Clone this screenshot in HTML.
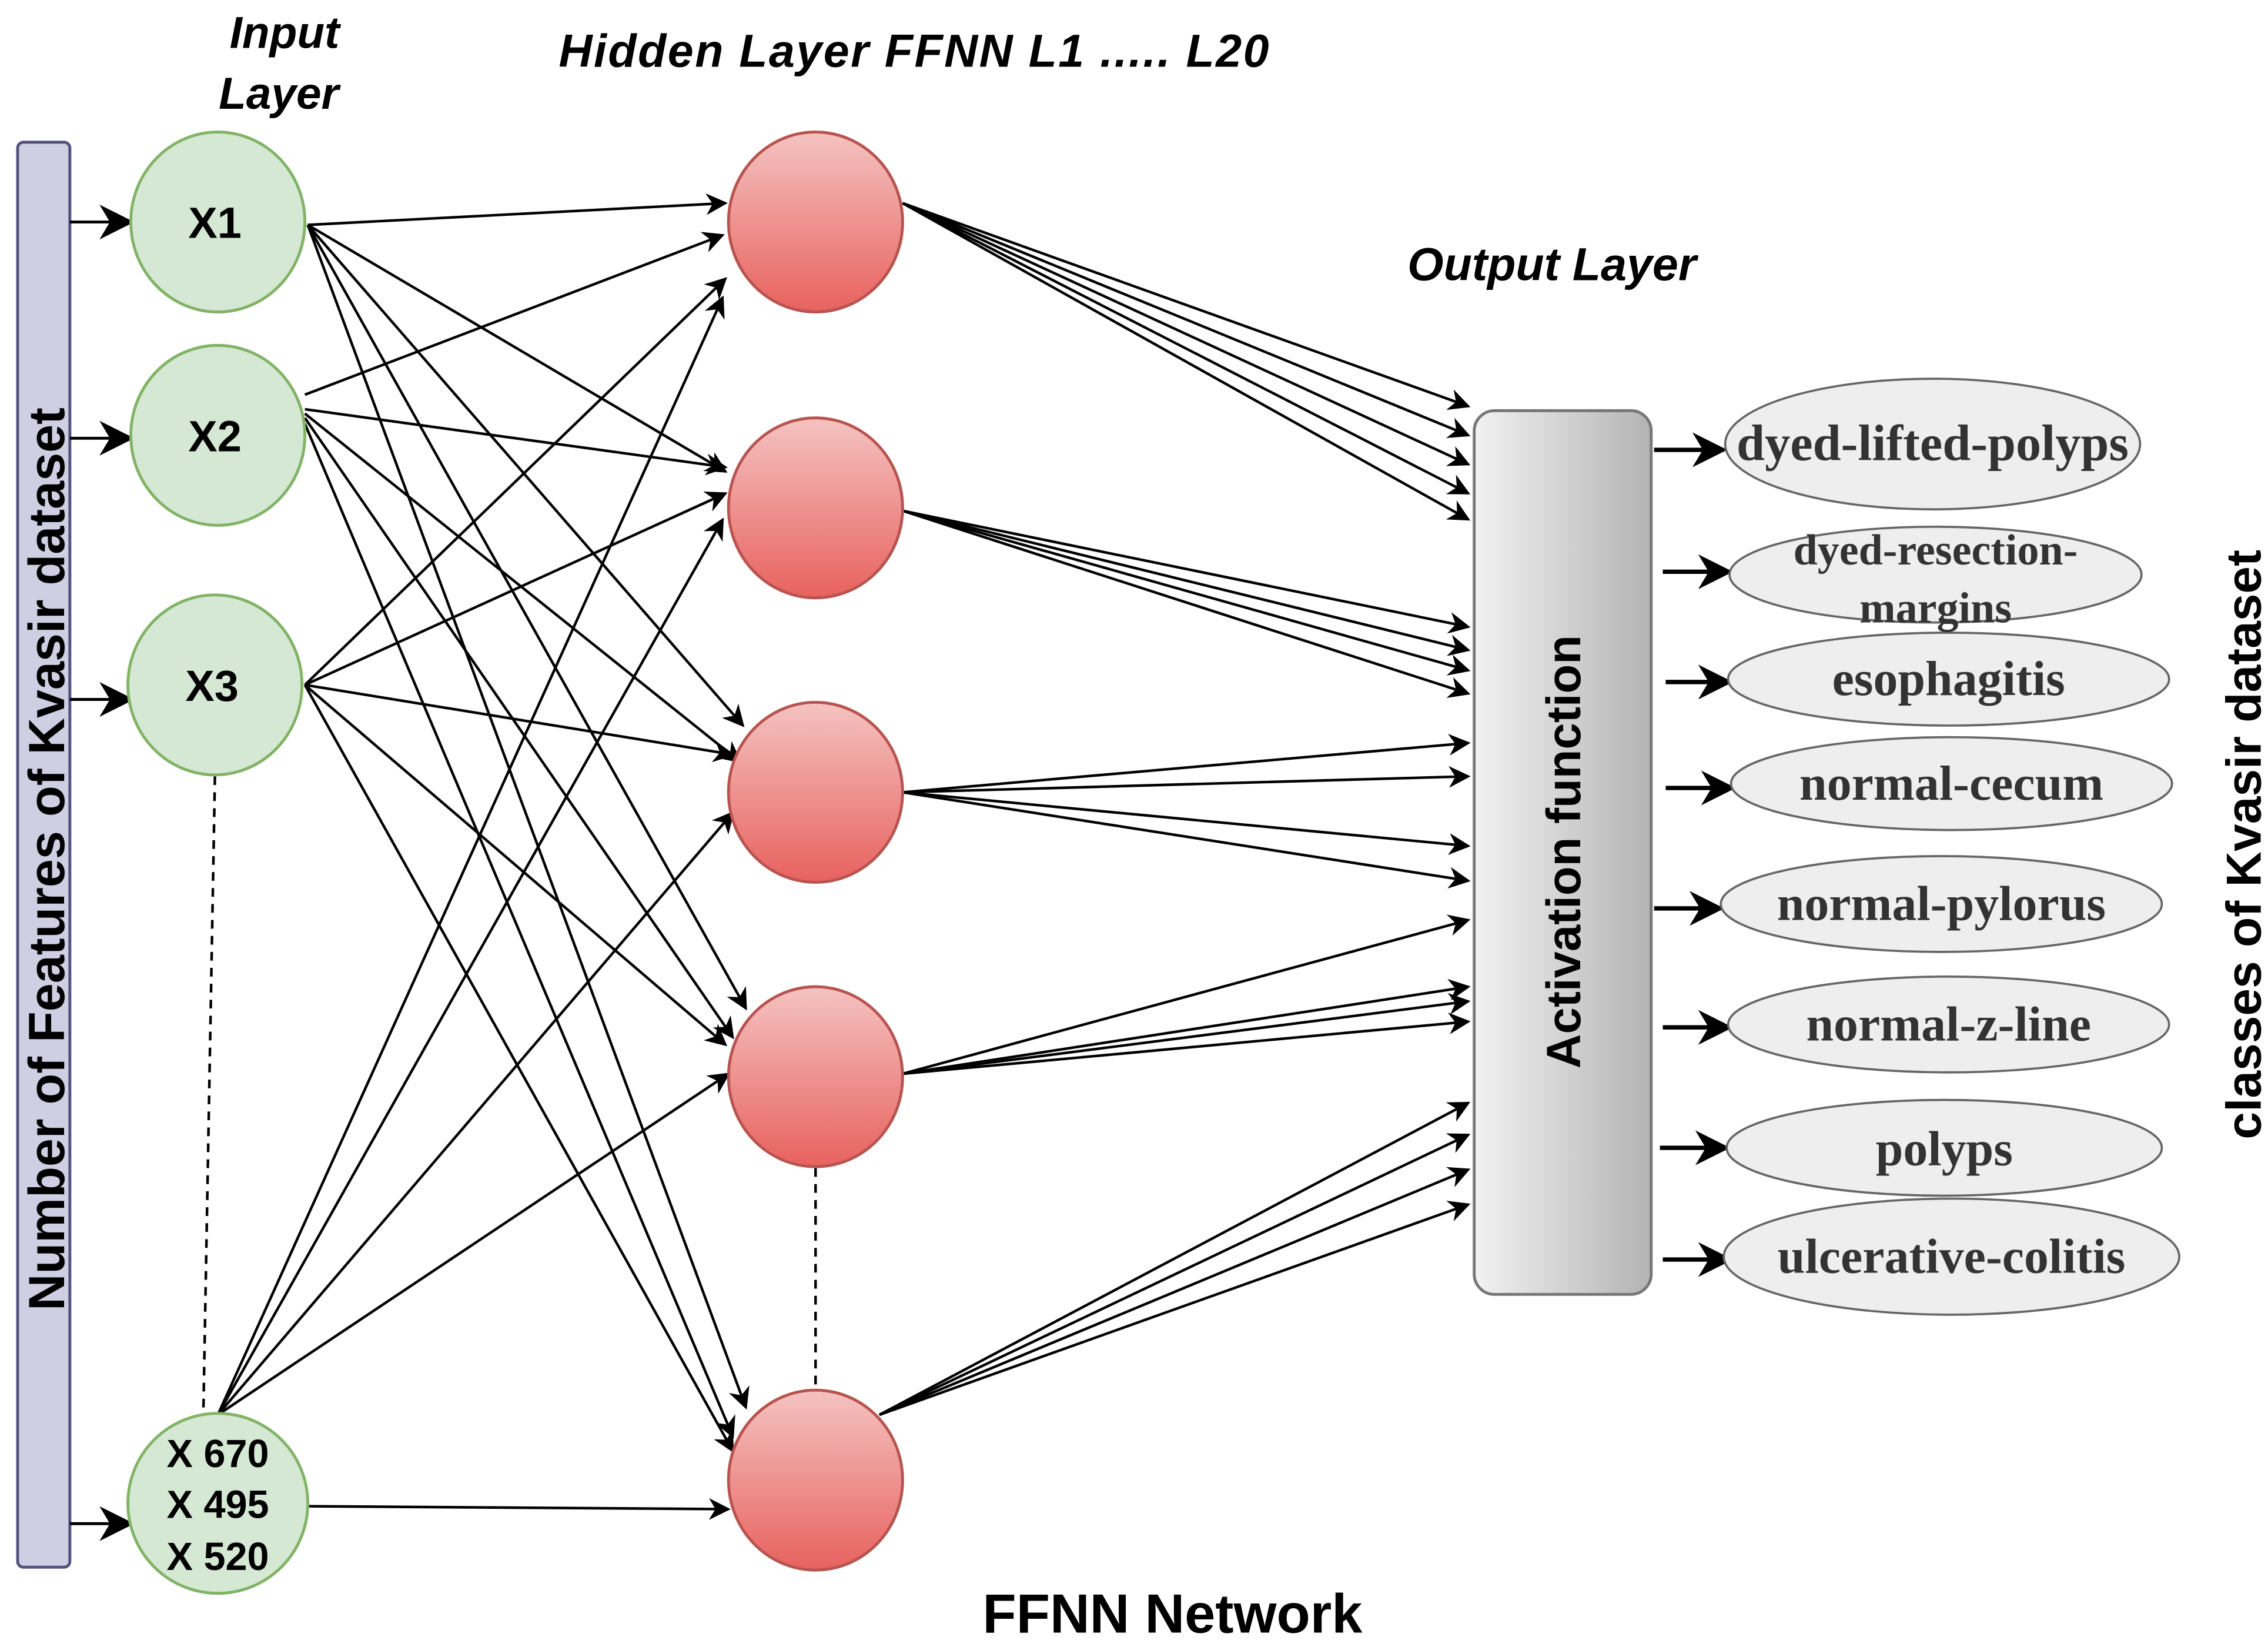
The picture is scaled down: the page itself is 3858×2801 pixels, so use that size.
<!DOCTYPE html>
<html><head><meta charset="utf-8"><style>html,body{margin:0;padding:0;background:#fff}svg{display:block}</style></head>
<body>
<svg width="3858" height="2801" viewBox="0 0 1563 1135" xmlns="http://www.w3.org/2000/svg">
<defs>
<marker id="a" viewBox="0 0 10 10" refX="9" refY="5" markerWidth="17" markerHeight="15" markerUnits="userSpaceOnUse" orient="auto"><path d="M0,0 L10,5 L0,10 L3,5 z" fill="#000"/></marker>
<marker id="b" viewBox="0 0 10 10" refX="9" refY="5" markerWidth="26" markerHeight="24" markerUnits="userSpaceOnUse" orient="auto"><path d="M0,0 L10,5 L0,10 L3,5 z" fill="#000"/></marker>
<linearGradient id="r" x1="0" y1="0" x2="0" y2="1"><stop offset="0" stop-color="#f4c3c1"/><stop offset="1" stop-color="#e8625f"/></linearGradient>
<linearGradient id="g" x1="0" y1="0" x2="1" y2="0"><stop offset="0" stop-color="#f2f2f2"/><stop offset="1" stop-color="#b3b3b3"/></linearGradient>
</defs>
<g font-family="Liberation Sans, sans-serif" font-weight="bold" font-style="italic" font-size="31" fill="#000">
<text x="196" y="33" text-anchor="middle">Input</text>
<text x="192" y="75" text-anchor="middle">Layer</text>
<text x="385" y="46" font-size="32" letter-spacing="1">Hidden Layer  FFNN L1 ..... L20</text>
<text x="970" y="193" font-size="32">Output Layer</text>
</g>
<text x="808" y="1125" text-anchor="middle" font-family="Liberation Sans, sans-serif" font-weight="bold" font-size="38">FFNN Network</text>
<rect x="12" y="98" width="36" height="982" rx="4" fill="#d0cee2" stroke="#56517e" stroke-width="2"/>
<text transform="translate(44,592) rotate(-90)" text-anchor="middle" font-family="Liberation Sans, sans-serif" font-weight="bold" font-size="35">Number of Features of Kvasir dataset</text>
<text transform="translate(1558,582) rotate(-90)" text-anchor="middle" font-family="Liberation Sans, sans-serif" font-weight="bold" font-size="34">classes of Kvasir dataset</text>
<g stroke="#000" stroke-width="2" marker-end="url(#b)">
<line x1="48" y1="153" x2="90" y2="153"/><line x1="48" y1="302" x2="90" y2="302"/>
<line x1="48" y1="482" x2="90" y2="482"/><line x1="48" y1="1050" x2="90" y2="1050"/>
</g>
<g stroke="#000" stroke-width="1.8" marker-end="url(#a)" fill="none">
<line x1="212" y1="155" x2="500" y2="140"/><line x1="212" y1="155" x2="500" y2="325"/><line x1="212" y1="155" x2="512" y2="500"/><line x1="212" y1="155" x2="514" y2="695"/><line x1="212" y1="155" x2="514" y2="970"/>
<line x1="210" y1="272" x2="498" y2="162"/><line x1="210" y1="282" x2="500" y2="322"/><line x1="210" y1="285" x2="510" y2="525"/><line x1="210" y1="288" x2="505" y2="715"/><line x1="210" y1="292" x2="505" y2="990"/>
<line x1="210" y1="472" x2="500" y2="192"/><line x1="210" y1="472" x2="500" y2="340"/><line x1="210" y1="472" x2="505" y2="520"/><line x1="210" y1="472" x2="500" y2="720"/><line x1="210" y1="472" x2="505" y2="1000"/>
<line x1="150" y1="975" x2="498" y2="205"/><line x1="150" y1="975" x2="498" y2="358"/><line x1="150" y1="975" x2="505" y2="560"/><line x1="150" y1="975" x2="502" y2="740"/><line x1="212" y1="1038" x2="502" y2="1040"/>
<line x1="622" y1="140" x2="1012" y2="280"/><line x1="622" y1="140" x2="1012" y2="300"/><line x1="622" y1="140" x2="1012" y2="320"/><line x1="622" y1="140" x2="1012" y2="340"/><line x1="622" y1="140" x2="1012" y2="358"/>
<line x1="622" y1="352" x2="1012" y2="432"/><line x1="622" y1="352" x2="1012" y2="448"/><line x1="622" y1="352" x2="1012" y2="462"/><line x1="622" y1="352" x2="1012" y2="478"/>
<line x1="622" y1="546" x2="1012" y2="512"/><line x1="622" y1="546" x2="1012" y2="535"/><line x1="622" y1="546" x2="1012" y2="583"/><line x1="622" y1="546" x2="1012" y2="607"/>
<line x1="622" y1="740" x2="1012" y2="634"/><line x1="622" y1="740" x2="1012" y2="680"/><line x1="622" y1="740" x2="1012" y2="690"/><line x1="622" y1="740" x2="1012" y2="704"/>
<line x1="606" y1="975" x2="1012" y2="760"/><line x1="606" y1="975" x2="1012" y2="782"/><line x1="606" y1="975" x2="1012" y2="806"/><line x1="606" y1="975" x2="1012" y2="830"/>
</g>
<g stroke="#000" stroke-width="1.8" stroke-dasharray="6,5">
<line x1="148" y1="535" x2="140" y2="975"/><line x1="562" y1="805" x2="562" y2="958"/>
</g>
<g fill="#d5e8d4" stroke="#82b366" stroke-width="2">
<ellipse cx="150" cy="153" rx="60" ry="62"/><ellipse cx="150" cy="300" rx="60" ry="62"/>
<ellipse cx="148" cy="472" rx="60" ry="62"/><ellipse cx="150" cy="1036" rx="62" ry="62"/>
</g>
<g font-family="Liberation Sans, sans-serif" font-weight="bold" font-size="30" text-anchor="middle">
<text x="148" y="164">X1</text><text x="148" y="311">X2</text><text x="146" y="483">X3</text>
<text x="150" y="1011" font-size="27">X 670</text><text x="150" y="1046" font-size="27">X 495</text><text x="150" y="1082" font-size="27">X 520</text>
</g>
<g fill="url(#r)" stroke="#b85450" stroke-width="2">
<ellipse cx="562" cy="153" rx="60" ry="62"/><ellipse cx="562" cy="350" rx="60" ry="62"/>
<ellipse cx="562" cy="546" rx="60" ry="62"/><ellipse cx="562" cy="742" rx="60" ry="62"/>
<ellipse cx="562" cy="1020" rx="60" ry="62"/>
</g>
<rect x="1016" y="283" width="122" height="609" rx="14" fill="url(#g)" stroke="#777" stroke-width="2"/>
<text transform="translate(1089,587) rotate(-90)" text-anchor="middle" font-family="Liberation Sans, sans-serif" font-weight="bold" font-size="33">Activation function</text>
<g stroke="#000" stroke-width="3" marker-end="url(#b)">
<line x1="1140" y1="310" x2="1188" y2="310"/><line x1="1146" y1="394" x2="1192" y2="394"/>
<line x1="1148" y1="470" x2="1192" y2="470"/><line x1="1148" y1="543" x2="1194" y2="543"/>
<line x1="1140" y1="626" x2="1186" y2="626"/><line x1="1146" y1="708" x2="1192" y2="708"/>
<line x1="1144" y1="791" x2="1190" y2="791"/><line x1="1146" y1="868" x2="1192" y2="868"/>
</g>
<g fill="#eeeeee" stroke="#666" stroke-width="1.5">
<ellipse cx="1332" cy="306" rx="143" ry="45"/><ellipse cx="1334" cy="396" rx="142" ry="33"/>
<ellipse cx="1343" cy="468" rx="152" ry="32"/><ellipse cx="1345" cy="540" rx="152" ry="32"/>
<ellipse cx="1338" cy="623" rx="152" ry="33"/><ellipse cx="1343" cy="706" rx="152" ry="33"/>
<ellipse cx="1340" cy="791" rx="150" ry="33"/><ellipse cx="1345" cy="866" rx="157" ry="40"/>
</g>
<g font-family="Liberation Serif, serif" font-weight="bold" font-size="34" fill="#333" text-anchor="middle">
<text x="1332" y="317" font-size="35">dyed-lifted-polyps</text>
<text x="1334" y="389" font-size="30">dyed-resection-</text><text x="1334" y="429" font-size="30">margins</text>
<text x="1343" y="479">esophagitis</text><text x="1345" y="551">normal-cecum</text>
<text x="1338" y="634">normal-pylorus</text><text x="1343" y="717">normal-z-line</text>
<text x="1340" y="803">polyps</text><text x="1345" y="877">ulcerative-colitis</text>
</g>
</svg>
</body></html>
